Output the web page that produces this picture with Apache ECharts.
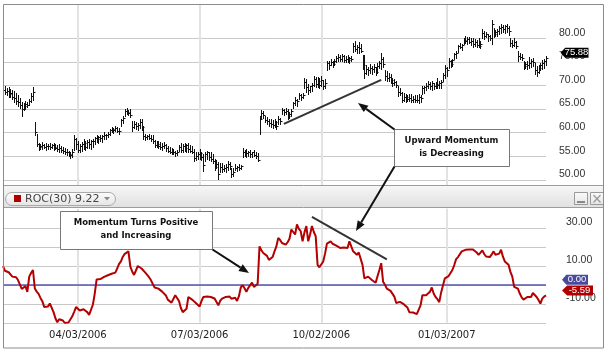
<!DOCTYPE html>
<html>
<head>
<meta charset="utf-8">
<script src="https://cdn.jsdelivr.net/npm/echarts/dist/echarts.min.js"></script>
<style>
html, body { margin: 0; padding: 0; background: #fff; }
#chart { width: 609px; height: 354px; }
</style>
</head>
<body>
<div id="chart"></div>
<script>
// date labels shown on the bottom axis
var tickLabels = ['04/03/2006', '07/03/2006', '10/02/2006', '01/03/2007'];

// price bars
var highs = [
  69.6, 69.8, 69.4, 69.6, 69.2, 69.0, 68.8, 68.4, 68.0, 67.4,
  66.4, 66.2, 66.8, 66.6, 67.2, 68.4, 69.6, 62.2, 59.8, 57.9,
  57.6, 58.0, 57.7, 57.8, 57.5, 57.9, 57.7, 57.8, 57.6, 57.4,
  57.6, 57.2, 57.0, 56.8, 56.6, 56.2, 55.8, 56.5, 59.4, 58.8,
  58.2, 57.6, 58.0, 58.6, 58.3, 58.5, 58.7, 58.4, 58.6, 59.0,
  59.4, 59.2, 59.6, 59.4, 60.1, 59.8, 60.2, 60.8, 61.3, 61.0,
  61.4, 61.2, 61.0, 63.0, 63.6, 65.0, 65.2, 64.9, 65.1, 62.5,
  62.4, 62.3, 62.0, 62.8, 62.9, 61.4, 59.7, 59.5, 59.8, 59.6,
  59.4, 58.4, 58.2, 58.3, 58.0, 57.8, 58.1, 57.6, 57.2, 57.0,
  56.8, 56.6, 56.2, 56.4, 57.4, 57.9, 57.6, 57.8, 57.5, 57.9,
  57.4, 57.2, 56.6, 55.8, 56.0, 56.6, 56.0, 55.4, 56.0, 56.2,
  55.8, 56.0, 55.4, 54.5, 54.2, 53.8, 53.6, 53.6, 53.2, 53.4,
  54.0, 53.8, 52.6, 52.4, 53.4, 53.0, 53.4, 53.2, 56.8, 56.4,
  56.5, 56.2, 56.4, 56.0, 56.3, 56.0, 55.7, 63.6, 64.9, 64.6,
  63.6, 63.4, 63.0, 62.8, 62.6, 62.8, 62.5, 63.6, 63.2, 65.3,
  65.0, 65.2, 65.1, 64.4, 65.0, 66.6, 67.5, 67.2, 68.5, 68.2,
  68.4, 71.5, 71.3, 70.4, 70.0, 70.6, 72.1, 71.8, 71.8, 71.6,
  72.0, 71.2, 71.4, 75.3, 75.1, 75.7, 75.2, 75.6, 76.2, 76.6,
  76.4, 76.7, 76.5, 76.3, 76.4, 76.0, 76.3, 79.0, 79.4, 78.6,
  79.2, 78.8, 76.4, 76.4, 74.3, 74.0, 74.5, 74.2, 74.6, 74.0,
  74.7, 75.2, 76.8, 76.0, 73.2, 73.0, 72.6, 72.4, 71.5, 71.4,
  71.0, 70.0, 69.4, 68.6, 68.4, 68.3, 68.0, 68.2, 68.1, 67.8,
  68.0, 67.9, 68.2, 68.0, 69.8, 70.0, 70.6, 71.0, 70.8, 71.0,
  70.5, 70.8, 71.5, 71.0, 71.2, 72.6, 74.3, 74.0, 75.9, 75.4,
  75.7, 77.0, 77.4, 78.6, 79.1, 78.8, 80.0, 80.4, 80.2, 80.3,
  80.0, 80.0, 79.8, 79.6, 80.0, 79.4, 81.9, 81.6, 81.4, 81.0,
  80.8, 84.0, 82.1, 81.8, 82.0, 82.6, 83.0, 82.8, 82.9, 83.0,
  82.6, 80.0, 79.6, 80.0, 79.4, 77.4, 77.0, 76.6, 75.3, 75.0,
  75.2, 76.0, 75.6, 75.8, 74.7, 74.2, 74.4, 74.8, 75.4, 75.6, 76.2
];
var lows = [
  67.8, 68.2, 67.9, 67.6, 67.5, 67.2, 66.6, 66.0, 65.6, 65.2,
  63.5, 64.8, 65.0, 65.4, 65.8, 66.4, 67.0, 59.4, 57.2, 56.4,
  56.6, 56.5, 56.7, 56.4, 56.6, 56.5, 56.8, 56.4, 56.5, 56.2,
  56.0, 55.8, 55.6, 55.5, 55.2, 55.0, 54.6, 54.9, 56.4, 56.6,
  55.8, 56.0, 56.2, 56.6, 56.4, 56.8, 56.8, 56.6, 57.0, 57.6,
  58.0, 57.8, 58.2, 58.1, 58.7, 58.6, 59.0, 59.6, 60.2, 60.0,
  60.4, 60.2, 59.8, 61.5, 62.0, 63.6, 64.0, 63.8, 63.4, 60.4,
  61.0, 60.8, 60.6, 61.0, 60.6, 58.7, 58.5, 58.7, 58.6, 58.3,
  57.8, 56.9, 57.0, 56.8, 56.6, 56.4, 56.7, 56.2, 55.8, 55.6,
  55.5, 55.4, 55.1, 55.3, 56.2, 56.0, 55.8, 56.2, 55.9, 56.0,
  55.8, 55.6, 54.0, 54.2, 54.4, 54.4, 54.2, 51.9, 54.0, 54.4,
  54.2, 54.0, 53.6, 52.0, 52.4, 50.2, 51.6, 51.6, 51.8, 51.7,
  52.0, 52.3, 50.6, 50.8, 52.0, 51.8, 52.0, 52.2, 54.8, 55.0,
  54.8, 55.0, 54.9, 54.8, 55.0, 54.6, 54.0, 59.7, 63.0, 63.2,
  62.2, 61.8, 61.5, 61.3, 61.0, 61.2, 60.8, 61.9, 61.8, 64.0,
  63.8, 64.0, 63.0, 63.2, 63.6, 65.3, 65.8, 65.6, 67.2, 67.0,
  67.4, 69.4, 68.6, 68.3, 68.6, 68.8, 70.0, 69.6, 69.6, 69.4,
  69.8, 69.3, 69.4, 73.2, 73.4, 74.3, 74.0, 74.4, 75.0, 75.2,
  75.1, 75.3, 75.0, 74.9, 75.0, 74.8, 75.1, 77.1, 77.4, 77.0,
  76.8, 77.2, 73.6, 71.5, 72.5, 72.3, 72.6, 72.4, 72.8, 72.2,
  72.6, 73.8, 73.6, 74.0, 71.2, 71.0, 71.0, 70.6, 70.0, 70.2,
  69.6, 67.7, 67.9, 66.5, 66.8, 66.6, 66.8, 66.7, 66.4, 66.5,
  66.6, 66.4, 66.2, 66.6, 68.3, 68.4, 69.1, 69.4, 69.2, 69.0,
  69.2, 69.4, 69.4, 69.5, 69.4, 71.0, 71.5, 72.0, 73.8, 73.9,
  74.2, 75.7, 75.8, 77.2, 77.9, 77.6, 78.9, 79.0, 78.8, 79.1,
  78.6, 78.1, 78.4, 78.2, 78.1, 77.9, 80.0, 79.8, 80.2, 79.5,
  79.6, 78.9, 80.2, 80.4, 80.6, 81.0, 81.2, 81.4, 81.1, 81.3,
  80.8, 78.4, 78.1, 78.4, 78.0, 75.3, 75.6, 75.4, 73.6, 73.8,
  73.6, 73.8, 74.0, 74.2, 72.5, 72.1, 72.6, 73.2, 73.6, 73.8, 74.4
];
var closes = [
  69.0, 68.6, 68.8, 68.2, 68.4, 67.6, 67.4, 66.8, 66.4, 65.8,
  65.0, 65.6, 66.0, 65.8, 66.8, 67.8, 68.6, 60.2, 57.6, 57.0,
  57.2, 57.4, 57.0, 57.1, 57.2, 56.9, 57.3, 57.0, 56.8, 56.6,
  56.8, 56.4, 56.1, 56.0, 55.8, 55.4, 55.2, 56.0, 58.6, 57.6,
  56.4, 57.2, 57.6, 57.8, 57.0, 58.0, 57.6, 58.2, 58.2, 58.8,
  58.6, 59.0, 58.8, 59.2, 59.6, 59.4, 59.8, 60.6, 60.8, 60.6,
  61.0, 60.4, 60.4, 62.6, 63.2, 64.6, 64.4, 64.2, 63.8, 61.2,
  61.8, 61.4, 61.6, 62.2, 61.2, 59.2, 59.0, 59.2, 58.9, 58.6,
  58.2, 57.4, 57.6, 57.2, 57.0, 57.1, 57.4, 56.8, 56.2, 56.0,
  55.8, 56.0, 55.6, 56.0, 57.0, 56.4, 57.2, 56.8, 57.4, 56.6,
  56.2, 56.0, 54.6, 55.0, 55.4, 55.6, 54.8, 53.2, 55.4, 55.8,
  54.8, 54.4, 54.0, 52.8, 53.4, 51.2, 52.8, 52.2, 52.6, 52.8,
  53.4, 53.0, 51.2, 51.6, 52.6, 52.8, 52.6, 53.0, 56.0, 55.6,
  55.6, 56.0, 55.4, 55.8, 55.2, 55.0, 54.2, 63.0, 64.2, 63.8,
  62.6, 62.4, 62.0, 61.8, 61.6, 62.2, 61.4, 63.0, 62.4, 64.8,
  64.4, 64.6, 63.6, 64.0, 64.6, 66.2, 67.0, 66.8, 68.0, 67.6,
  68.0, 70.8, 69.6, 69.0, 69.8, 70.2, 71.4, 70.4, 71.0, 70.2,
  71.2, 69.8, 70.6, 74.8, 74.4, 75.0, 74.6, 75.2, 75.8, 76.0,
  75.6, 76.2, 75.4, 75.6, 75.4, 75.8, 75.6, 78.4, 77.8, 78.2,
  78.0, 77.4, 74.4, 72.6, 73.6, 73.2, 73.8, 73.4, 74.0, 72.8,
  74.2, 74.8, 75.6, 74.6, 72.0, 71.6, 71.8, 71.2, 70.6, 70.8,
  70.2, 68.6, 68.4, 67.0, 67.6, 67.6, 67.2, 67.4, 67.0, 67.2,
  66.9, 67.0, 67.6, 67.4, 69.4, 69.6, 70.0, 70.4, 69.8, 70.6,
  70.0, 70.4, 70.2, 70.6, 70.8, 72.2, 73.8, 73.2, 75.2, 74.6,
  75.4, 76.6, 77.0, 78.4, 78.2, 78.6, 79.6, 79.4, 79.8, 79.2,
  79.4, 78.8, 79.2, 78.6, 78.4, 78.8, 81.2, 80.6, 81.0, 80.4,
  80.0, 83.0, 81.0, 81.4, 81.6, 82.2, 82.4, 82.0, 82.6, 82.2,
  81.6, 79.0, 78.6, 79.2, 78.4, 76.2, 76.0, 75.8, 74.2, 74.6,
  74.4, 74.8, 75.2, 75.0, 73.2, 72.8, 73.8, 74.4, 74.8, 75.2, 75.88
];

// ROC(30) line
var roc = [
  9.8, 7.4, 6.8, 6.6, 5.8, 4.3, 5.2, 4.0, 2.5, 0.2,
  -2.2, -2.6, -0.7, -3.7, 4.3, 6.2, 7.8, -2.0, -3.6, -4.8,
  -6.9, -8.6, -11.7, -11.2, -11.4, -9.8, -10.2, -14.4, -17.6, -19.7,
  -18.1, -17.9, -18.8, -20.1, -19.6, -19.8, -19.2, -16.6, -14.2, -11.7,
  -12.2, -13.5, -13.2, -12.9, -12.6, -14.4, -15.8, -16.2, -10.5, -4.6,
  2.8, 2.6, 3.0, 2.8, 4.2, 5.2, 5.0, 5.5, 5.8, 6.2,
  6.4, 8.7, 11.0, 12.3, 14.8, 16.3, 16.8, 17.6, 9.6, 7.0,
  5.2, 6.0, 9.9, 9.2, 8.6, 8.2, 6.4, 5.2, 4.0, 2.5,
  0.4, -1.4, -1.6, -2.0, -2.8, -3.6, -4.3, -5.6, -7.8, -8.6,
  -9.4, -9.9, -5.5, -6.2, -8.5, -12.2, -14.4, -13.6, -12.6, -6.4,
  -7.2, -7.8, -8.2, -9.6, -10.2, -11.4, -8.6, -6.4, -6.0, -6.2,
  -5.8, -6.4, -6.8, -7.2, -8.2, -10.8, -8.4, -7.3, -6.8, -6.4,
  -5.5, -6.2, -7.3, -6.6, -6.8, -8.5, -6.0, -1.4, -0.2, -1.8,
  -3.7, -1.6, -1.1, 1.1, -1.1, -0.7, 0.6, 20.2, 18.2, 16.7,
  15.8, 15.2, 13.1, 14.0, 14.6, 17.6, 20.2, 24.7, 23.6, 22.0,
  21.6, 21.1, 22.4, 24.2, 29.1, 27.8, 26.5, 31.8, 29.4, 28.2,
  22.9, 27.6, 30.9, 22.9, 26.5, 30.9, 27.8, 25.6, 10.5, 9.2,
  8.7, 12.3, 16.4, 21.7, 22.2, 22.9, 21.6, 21.1, 20.6, 20.2,
  19.4, 18.5, 19.6, 19.0, 19.4, 22.9, 20.2, 17.6, 16.8, 15.8,
  17.0, 16.2, 10.5, 3.4, 3.8, 4.3, 3.6, 2.5, 2.0, 1.1,
  1.2, 7.8, 11.4, 1.6, 0.0, -2.0, -2.6, -3.2, -3.7, -6.2,
  -9.6, -9.2, -9.0, -9.6, -10.2, -10.8, -12.0, -14.4, -14.0, -14.6,
  -14.4, -15.4, -16.2, -10.8, -5.5, -5.8, -5.5, -4.8, -3.7, -1.4,
  -4.6, -6.4, -7.6, -9.1, -4.0, -0.2, 3.4, 3.8, 4.6, 5.2,
  7.8, 10.4, 13.5, 14.6, 15.3, 17.6, 17.8, 18.4, 18.8, 18.6,
  18.8, 18.6, 18.1, 17.0, 15.8, 16.6, 18.1, 16.2, 14.9, 15.2,
  14.6, 16.0, 17.6, 15.8, 14.9, 16.4, 18.5, 14.8, 12.3, 11.4,
  10.5, 6.8, 4.3, -1.1, -0.2, -2.0, -4.6, -6.6, -7.8, -7.0,
  -6.4, -6.6, -6.4, -4.3, -5.0, -6.4, -8.0, -9.9, -7.3, -6.2, -5.59
];
var rocLabelValues = [30, 10, -10];
var lastPrice = 75.88;
var lastRoc = -5.59;
var rocHeader = 'ROC(30) 9.22';

// trend lines drawn on the chart: [index, value]
var priceTrend = [[150, 61.85], [202, 71.2]];
var rocTrend = [[165, 35.8], [205, 13.4]];

function pad(n) { return n < 10 ? '0' + n : '' + n; }
function fmtDate(d) { return pad(d.getMonth() + 1) + '/' + pad(d.getDate()) + '/' + d.getFullYear(); }

// trading days (weekdays) from 02/06/2006
var dates = [];
var day = new Date(2006, 1, 6);
while (dates.length < closes.length) {
    var wd = day.getDay();
    if (wd !== 0 && wd !== 6) dates.push(fmtDate(day));
    day.setDate(day.getDate() + 1);
}
var ohlc = closes.map(function (c, i) { return [i, highs[i], lows[i], c]; });
var lastIdx = closes.length - 1;

function isTick(idx, val) { return tickLabels.indexOf(val) >= 0; }

function renderBar(params, api) {
    var i = api.value(0);
    var hi = api.coord([i, api.value(1)]);
    var lo = api.coord([i, api.value(2)]);
    var cl = api.coord([i, api.value(3)]);
    var x = Math.round(hi[0]) + 0.5;
    var yc = Math.round(cl[1]) + 0.5;
    return {
        type: 'group',
        children: [
            { type: 'line', shape: { x1: x, y1: Math.round(hi[1]), x2: x, y2: Math.round(lo[1]) + 1 }, style: { stroke: '#111', lineWidth: 1 } },
            { type: 'line', shape: { x1: x, y1: yc, x2: x + 2, y2: yc }, style: { stroke: '#111', lineWidth: 1 } }
        ]
    };
}

var tagPath = 'path://M0,5L5,0L30,0L30,10L5,10Z';
function tag(coord, text, color, w, dx) {
    return {
        coord: coord,
        symbol: tagPath,
        symbolSize: [w, 10],
        symbolKeepAspect: false,
        symbolOffset: [dx, -5],
        itemStyle: { color: color },
        label: { show: true, position: 'inside', formatter: text, color: '#fff', fontSize: 9.5, fontFamily: 'Liberation Sans', offset: [2, 0] }
    };
}

// arrow helper for the annotations
function arrow(x1, y1, x2, y2) {
    var dx = x2 - x1, dy = y2 - y1;
    var len = Math.sqrt(dx * dx + dy * dy);
    var ux = dx / len, uy = dy / len;
    var hl = 10, hw = 4;
    var bx = x2 - ux * hl, by = y2 - uy * hl;
    return [
        { type: 'line', z: 100, shape: { x1: x1, y1: y1, x2: bx, y2: by }, style: { stroke: '#111', lineWidth: 2 } },
        { type: 'polygon', z: 100, shape: { points: [[x2, y2], [bx - uy * hw, by + ux * hw], [bx + uy * hw, by - ux * hw]] }, style: { fill: '#111' } }
    ];
}
function noteBox(x, y, w, h, lines) {
    var els = [{ type: 'rect', z: 100, shape: { x: x + 0.5, y: y + 0.5, width: w, height: h }, style: { fill: '#fff', stroke: '#777', lineWidth: 1 } }];
    lines.forEach(function (t, k) {
        els.push({
            type: 'text', z: 101,
            style: { text: t, x: x + w / 2, y: y + 11.5 + k * 13.5, fill: '#111', font: 'bold 8.5px "DejaVu Sans"',
                     align: 'center', verticalAlign: 'middle', textAlign: 'center', textVerticalAlign: 'middle' }
        });
    });
    return els;
}

var vgrad = function (a, b) { return { type: 'linear', x: 0, y: 0, x2: 0, y2: 1, colorStops: [{ offset: 0, color: a }, { offset: 1, color: b }] }; };

var graphics = [
    { type: 'rect', z: 50, shape: { x: 3.5, y: 185.5, width: 600, height: 22 }, style: { fill: vgrad('#f7f7f7', '#e0e0e0'), stroke: '#9c9c9c', lineWidth: 1 } },
    { type: 'rect', z: 51, shape: { x: 5.5, y: 192.5, width: 110, height: 13, r: 6.5 }, style: { fill: vgrad('#fdfdfd', '#e4e4e4'), stroke: '#aaa', lineWidth: 1 } },
    { type: 'rect', z: 52, shape: { x: 14, y: 195, width: 7, height: 7 }, style: { fill: '#b00000' } },
    { type: 'text', z: 52, style: { text: rocHeader, x: 25, y: 199.5, fill: '#444', font: '11px "DejaVu Sans"', verticalAlign: 'middle', textVerticalAlign: 'middle' } },
    { type: 'polygon', z: 52, shape: { points: [[104, 197], [110, 197], [107, 200.5]] }, style: { fill: '#888' } },
    { type: 'rect', z: 51, shape: { x: 574.5, y: 192.5, width: 13, height: 12 }, style: { fill: vgrad('#fafafa', '#e6e6e6'), stroke: '#999', lineWidth: 1 } },
    { type: 'line', z: 52, shape: { x1: 577, y1: 202, x2: 585, y2: 202 }, style: { stroke: '#888', lineWidth: 2 } },
    { type: 'rect', z: 51, shape: { x: 590.5, y: 192.5, width: 13, height: 12 }, style: { fill: vgrad('#fafafa', '#e6e6e6'), stroke: '#999', lineWidth: 1 } },
    { type: 'line', z: 52, shape: { x1: 593.5, y1: 195, x2: 600.5, y2: 202.5 }, style: { stroke: '#999', lineWidth: 1.2 } },
    { type: 'line', z: 52, shape: { x1: 600.5, y1: 195, x2: 593.5, y2: 202.5 }, style: { stroke: '#999', lineWidth: 1.2 } },
    { type: 'rect', z: 120, shape: { x: 3.5, y: 4.5, width: 600, height: 343.5 }, style: { fill: 'none', stroke: '#8c8c8c', lineWidth: 1 } }
]
.concat(noteBox(394, 129, 115, 37, ['Upward Momentum', 'is Decreasing']))
.concat(noteBox(60, 211, 152, 38, ['Momentum Turns Positive', 'and Increasing']))
.concat(arrow(394.5, 129.5, 358, 103))
.concat(arrow(394.5, 166.5, 356, 231))
.concat(arrow(212.5, 249.5, 249, 273));

var vSplit = { show: true, interval: isTick, lineStyle: { color: '#e2e2e2', width: 2 } };

var chart = echarts.init(document.getElementById('chart'));
chart.setOption({
    animation: false,
    backgroundColor: '#fff',
    grid: [
        { left: 3, right: 63, top: 4, height: 181, outerBoundsMode: 'none' },
        { left: 3, right: 63, top: 14.8, height: 165, outerBoundsMode: 'none' },
        { left: 3, right: 63, top: 208.8, height: 114, outerBoundsMode: 'none' }
    ],
    xAxis: [
        { gridIndex: 0, type: 'category', data: dates, boundaryGap: false, axisLine: { show: false }, axisTick: { show: false }, axisLabel: { show: false }, splitLine: vSplit },
        { gridIndex: 1, type: 'category', data: dates, boundaryGap: false, show: false },
        { gridIndex: 2, type: 'category', data: dates, boundaryGap: false, axisLine: { show: false }, axisTick: { show: false },
          axisLabel: { interval: isTick, color: '#222', fontFamily: 'DejaVu Sans', fontSize: 10, margin: 8 }, splitLine: vSplit }
    ],
    yAxis: [
        { gridIndex: 0, type: 'value', show: false },
        { gridIndex: 1, type: 'value', position: 'right', min: 50, max: 85, interval: 5,
          axisLine: { show: false }, axisTick: { show: false },
          axisLabel: { margin: 13, showMaxLabel: false, color: '#333', fontFamily: 'Liberation Sans', fontSize: 10.5, verticalAlign: 'bottom',
                       formatter: function (v) { return v.toFixed(2); } },
          splitLine: { show: true, showMaxLine: false, lineStyle: { color: '#c9c9c9', width: 1 } } },
        { gridIndex: 2, type: 'value', position: 'right', min: -20, max: 40, interval: 10,
          axisLine: { show: false }, axisTick: { show: false },
          axisLabel: { margin: 20, color: '#333', fontFamily: 'Liberation Sans', fontSize: 10.5, verticalAlign: 'bottom',
                       formatter: function (v) { return rocLabelValues.indexOf(v) >= 0 ? v.toFixed(2) : ''; } },
          splitLine: { show: true, showMaxLine: false, lineStyle: { color: '#c9c9c9', width: 1 } } }
    ],
    series: [
        {
            type: 'custom', xAxisIndex: 1, yAxisIndex: 1, data: ohlc, renderItem: renderBar,
            encode: { x: 0, y: [1, 2, 3] }, z: 3,
            markPoint: { z: 10, data: [tag([lastIdx, lastPrice], lastPrice.toFixed(2), '#000', 28, 28.5)] }
        },
        {
            type: 'line', xAxisIndex: 1, yAxisIndex: 1, data: priceTrend, showSymbol: false, symbol: 'none', z: 4,
            lineStyle: { color: '#333', width: 2 }
        },
        {
            type: 'line', xAxisIndex: 2, yAxisIndex: 2, data: roc, showSymbol: false, symbol: 'none', z: 3,
            lineStyle: { color: '#b40000', width: 2 },
            markLine: { z: 1, silent: true, symbol: ['none', 'none'], label: { show: false },
                        lineStyle: { color: '#5656a8', width: 1.5, type: 'solid' }, data: [{ yAxis: 0 }] },
            markPoint: { z: 10, data: [
                tag([lastIdx, 0], '0.00', '#4a4a9c', 26, 29),
                tag([lastIdx, lastRoc], lastRoc.toFixed(2), '#b00000', 31, 31.5)
            ] }
        },
        {
            type: 'line', xAxisIndex: 2, yAxisIndex: 2, data: rocTrend, showSymbol: false, symbol: 'none', z: 4,
            lineStyle: { color: '#333', width: 2 }
        }
    ],
    graphic: { elements: graphics }
});
</script>
</body>
</html>
